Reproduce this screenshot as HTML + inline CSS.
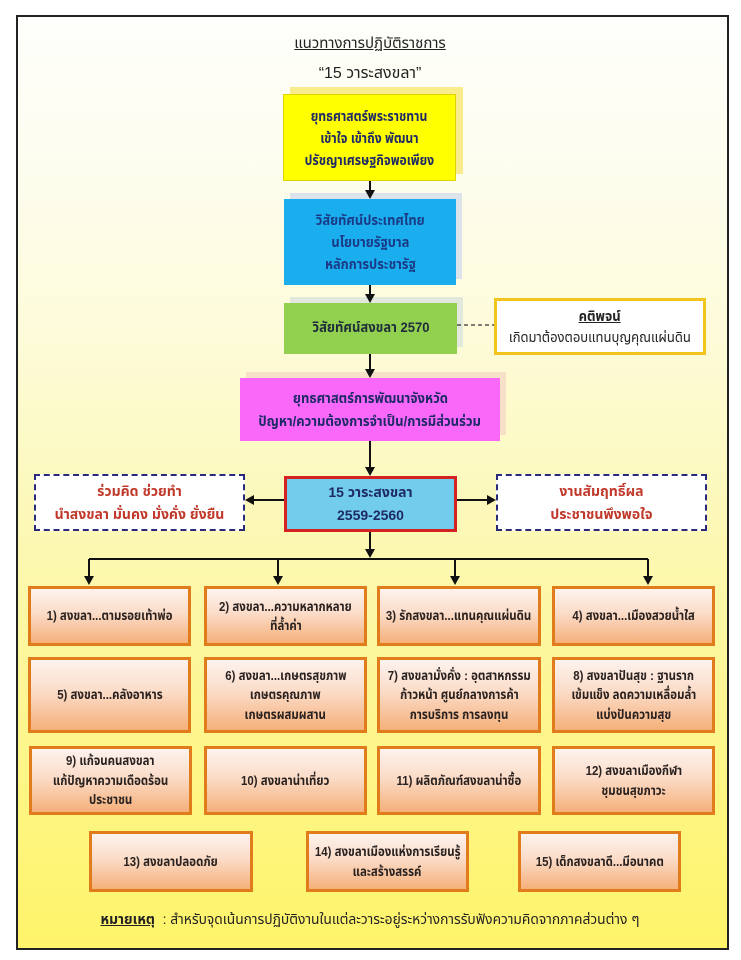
<!DOCTYPE html>
<html>
<head>
<meta charset="utf-8">
<style>
html,body{margin:0;padding:0;}
body{width:741px;height:960px;background:#fff;position:relative;overflow:hidden;
font-family:"Liberation Sans","Noto Sans Thai","Garuda","Loma","Tlwg Typo","DejaVu Sans",sans-serif;}
.frame{position:absolute;left:16px;top:15px;width:709px;height:931px;border:2px solid #222;
background:linear-gradient(to bottom,#fefefb 0%,#fdfdf0 15%,#fdfbd8 35%,#fcf8b6 55%,#fdf690 75%,#fff46a 100%);}
.abs{position:absolute;box-sizing:border-box;display:flex;flex-direction:column;justify-content:center;align-items:center;text-align:center;white-space:nowrap;}
.t{position:absolute;white-space:nowrap;text-align:center;}
.shadow{position:absolute;}
.ob{position:absolute;box-sizing:border-box;border:3px solid #e07c1c;
background:linear-gradient(to bottom,#fdf3ee 0%,#fbdcc8 45%,#f5b07a 100%);
display:flex;flex-direction:column;justify-content:center;align-items:center;text-align:center;white-space:nowrap;
font-size:13px;font-weight:bold;color:#2a2220;line-height:19.5px;}
.ob div{transform:scaleX(0.88);}
.s87 div{transform:scaleX(0.87);}
.s92 div{transform:scaleX(0.92);}
.s93 div{transform:scaleX(0.93);}
svg{position:absolute;left:0;top:0;}
</style>
</head>
<body>
<div class="frame"></div>

<div class="t" style="left:220px;width:300px;top:32px;font-size:15px;color:#222;text-decoration:underline;">แนวทางการปฏิบัติราชการ</div>
<div class="t" style="left:220px;width:300px;top:62px;font-size:16px;color:#222;">“15 วาระสงขลา”</div>

<!-- yellow -->
<div class="shadow" style="left:290px;top:87px;width:173px;height:87px;background:#f8ec8c;"></div>
<div class="abs s87" style="left:283px;top:94px;width:173px;height:87px;background:#ffff00;border:1px solid #e0d400;font-size:14px;font-weight:bold;color:#1e2a66;line-height:22px;">
<div>ยุทธศาสตร์พระราชทาน</div><div>เข้าใจ เข้าถึง พัฒนา</div><div>ปรัชญาเศรษฐกิจพอเพียง</div></div>

<!-- blue -->
<div class="shadow" style="left:290px;top:193px;width:172px;height:86px;background:#dde3ea;"></div>
<div class="abs s92" style="left:284px;top:199px;width:172px;height:86px;background:#1aaeef;font-size:14px;font-weight:bold;color:#1b3a86;line-height:22px;">
<div>วิสัยทัศน์ประเทศไทย</div><div>นโยบายรัฐบาล</div><div>หลักการประชารัฐ</div></div>

<!-- green -->
<div class="shadow" style="left:290px;top:297px;width:173px;height:50px;background:#e2e8dc;"></div>
<div class="abs s93" style="left:284px;top:303px;width:173px;height:51px;background:#92d050;font-size:14px;font-weight:bold;color:#1f2d3a;">
<div>วิสัยทัศน์สงขลา 2570</div></div>

<!-- motto -->
<div class="abs s93" style="left:494px;top:298px;width:212px;height:57px;background:#fff;border:3px solid #f2c41e;font-size:14px;color:#222;line-height:21px;">
<div style="text-decoration:underline;font-weight:bold;">คติพจน์</div><div>เกิดมาต้องตอบแทนบุญคุณแผ่นดิน</div></div>

<!-- magenta -->
<div class="shadow" style="left:246px;top:372px;width:260px;height:63px;background:#f6e0c8;"></div>
<div class="abs s93" style="left:240px;top:378px;width:260px;height:63px;background:#f968f9;font-size:14px;font-weight:bold;color:#1e2a66;line-height:23px;">
<div>ยุทธศาสตร์การพัฒนาจังหวัด</div><div>ปัญหา/ความต้องการจำเป็น/การมีส่วนร่วม</div></div>

<!-- center -->
<div class="abs" style="left:284px;top:476px;width:173px;height:56px;background:#72ccec;border:3px solid #d42222;font-size:14px;font-weight:bold;color:#1e2a66;line-height:23px;">
<div>15 วาระสงขลา</div><div>2559-2560</div></div>

<!-- side dashed -->
<div class="abs" style="left:34px;top:474px;width:211px;height:57px;background:#fff;border:2px dashed #2a2a7a;font-size:14px;font-weight:bold;color:#c0392b;line-height:23px;">
<div>ร่วมคิด ช่วยทำ</div><div>นำสงขลา มั่นคง มั่งคั่ง ยั่งยืน</div></div>
<div class="abs" style="left:496px;top:474px;width:211px;height:57px;background:#fff;border:2px dashed #2a2a7a;font-size:14px;font-weight:bold;color:#c0392b;line-height:23px;">
<div>งานสัมฤทธิ์ผล</div><div>ประชาชนพึงพอใจ</div></div>

<!-- orange boxes -->
<div class="ob" style="left:28px;top:586px;width:163px;height:60px;"><div>1) สงขลา...ตามรอยเท้าพ่อ</div></div>
<div class="ob" style="left:204px;top:586px;width:163px;height:60px;"><div>2) สงขลา...ความหลากหลาย</div><div>ที่ล้ำค่า</div></div>
<div class="ob" style="left:377px;top:586px;width:164px;height:60px;"><div>3) รักสงขลา...แทนคุณแผ่นดิน</div></div>
<div class="ob" style="left:552px;top:586px;width:163px;height:60px;"><div>4) สงขลา...เมืองสวยน้ำใส</div></div>

<div class="ob" style="left:28px;top:657px;width:163px;height:76px;"><div>5) สงขลา...คลังอาหาร</div></div>
<div class="ob" style="left:204px;top:657px;width:163px;height:76px;"><div>6) สงขลา...เกษตรสุขภาพ</div><div>เกษตรคุณภาพ</div><div>เกษตรผสมผสาน</div></div>
<div class="ob" style="left:377px;top:657px;width:164px;height:76px;"><div>7) สงขลามั่งคั่ง : อุตสาหกรรม</div><div>ก้าวหน้า ศูนย์กลางการค้า</div><div>การบริการ การลงทุน</div></div>
<div class="ob" style="left:552px;top:657px;width:163px;height:76px;"><div>8) สงขลาปันสุข : ฐานราก</div><div>เข้มแข็ง ลดความเหลื่อมล้ำ</div><div>แบ่งปันความสุข</div></div>

<div class="ob" style="left:29px;top:746px;width:163px;height:69px;"><div>9) แก้จนคนสงขลา</div><div>แก้ปัญหาความเดือดร้อน</div><div>ประชาชน</div></div>
<div class="ob" style="left:204px;top:746px;width:163px;height:69px;"><div>10) สงขลาน่าเที่ยว</div></div>
<div class="ob" style="left:377px;top:746px;width:164px;height:69px;"><div>11) ผลิตภัณฑ์สงขลาน่าซื้อ</div></div>
<div class="ob" style="left:552px;top:746px;width:163px;height:69px;"><div>12) สงขลาเมืองกีฬา</div><div>ชุมชนสุขภาวะ</div></div>

<div class="ob" style="left:89px;top:831px;width:164px;height:61px;"><div>13) สงขลาปลอดภัย</div></div>
<div class="ob" style="left:306px;top:831px;width:163px;height:61px;"><div>14) สงขลาเมืองแห่งการเรียนรู้</div><div>และสร้างสรรค์</div></div>
<div class="ob" style="left:518px;top:831px;width:163px;height:61px;"><div>15) เด็กสงขลาดี...มีอนาคต</div></div>

<div class="t" style="left:20px;width:700px;top:910px;font-size:13.8px;color:#222;"><span style="text-decoration:underline;font-weight:bold;">หมายเหตุ</span> &nbsp;: สำหรับจุดเน้นการปฏิบัติงานในแต่ละวาระอยู่ระหว่างการรับฟังความคิดจากภาคส่วนต่าง ๆ</div>

<svg width="741" height="960" viewBox="0 0 741 960">
<g stroke="#111" stroke-width="2" fill="none">
<line x1="370" y1="181" x2="370" y2="191"/>
<line x1="370" y1="285" x2="370" y2="295"/>
<line x1="370" y1="354" x2="370" y2="370"/>
<line x1="370" y1="441" x2="370" y2="468"/>
<line x1="370" y1="532" x2="370" y2="550"/>
<line x1="284" y1="500" x2="253" y2="500"/>
<line x1="457" y1="500" x2="488" y2="500"/>
<line x1="89" y1="559" x2="648" y2="559"/>
<line x1="89" y1="559" x2="89" y2="577"/>
<line x1="278" y1="559" x2="278" y2="577"/>
<line x1="455" y1="559" x2="455" y2="577"/>
<line x1="648" y1="559" x2="648" y2="577"/>
</g>
<line x1="457" y1="325" x2="494" y2="325" stroke="#333" stroke-width="1.3" stroke-dasharray="4,3"/>
<g fill="#111">
<polygon points="365,190 375,190 370,199"/>
<polygon points="365,294 375,294 370,303"/>
<polygon points="365,369 375,369 370,378"/>
<polygon points="365,467 375,467 370,476"/>
<polygon points="365,549 375,549 370,558"/>
<polygon points="254,495 254,505 245,500"/>
<polygon points="487,495 487,505 496,500"/>
<polygon points="84,576 94,576 89,585"/>
<polygon points="273,576 283,576 278,585"/>
<polygon points="450,576 460,576 455,585"/>
<polygon points="643,576 653,576 648,585"/>
</g>
</svg>
</body>
</html>
